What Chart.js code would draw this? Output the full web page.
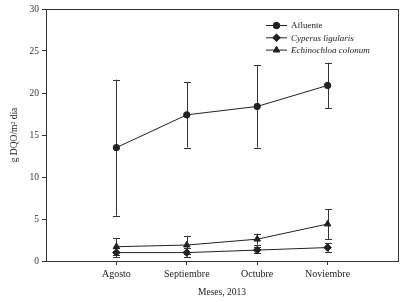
<!DOCTYPE html>
<html>
<head>
<meta charset="utf-8">
<script src="https://cdn.jsdelivr.net/npm/chart.js@4/dist/chart.umd.min.js"></script>
<style>
  html, body { margin: 0; padding: 0; background: #fff; }
  #wrap { width: 411px; height: 302px; position: relative; }
</style>
</head>
<body>
<div id="wrap"><canvas id="chart"></canvas></div>
<script>
const months = ['Agosto', 'Septiembre', 'Octubre', 'Noviembre'];
const seriesNames = ['Afluente', 'Cyperus ligularis', 'Echinochloa colonum'];

// medias
const afluente = [13.5, 17.4, 18.4, 20.9];
const cyperus = [1.0, 1.0, 1.3, 1.6];
const echinochloa = [1.7, 1.9, 2.6, 4.4];

// desviación estándar (barras de error)
const afluenteSd = [8.1, 3.9, 4.9, 2.7];
const cyperusSd = [0.5, 0.5, 0.4, 0.5];
const echinochloaSd = [1.0, 1.1, 0.65, 1.8];

const yTicks = [0, 5, 10, 15, 20, 25, 30];

const ink = '#222';
const serif = '"Liberation Serif", "Times New Roman", serif';

function toPoints(vals, sds) {
    return vals.map((v, i) => ({ x: i + 1, y: v, sd: sds[i] }));
}

const markers = ['circle', 'rectRot', 'triangle'];
const radii = [3.2, 3.8, 3.8];

// barras de error
const errorBars = {
    id: 'errorBars',
    beforeDatasetsDraw(chart) {
        const ctx = chart.ctx;
        const ys = chart.scales.y;
        ctx.save();
        ctx.strokeStyle = '#333';
        ctx.lineWidth = 1;
        chart.data.datasets.forEach((ds, di) => {
            const meta = chart.getDatasetMeta(di);
            meta.data.forEach((pt, i) => {
                const d = ds.data[i];
                const x = Math.round(pt.x) + 0.5;
                const top = ys.getPixelForValue(d.y + d.sd);
                const bot = ys.getPixelForValue(d.y - d.sd);
                ctx.beginPath();
                ctx.moveTo(x, top); ctx.lineTo(x, bot);
                ctx.moveTo(x - 3.5, Math.round(top) + 0.5); ctx.lineTo(x + 3.5, Math.round(top) + 0.5);
                ctx.moveTo(x - 3.5, Math.round(bot) + 0.5); ctx.lineTo(x + 3.5, Math.round(bot) + 0.5);
                ctx.stroke();
            });
        });
        ctx.restore();
    }
};

// marco y leyenda
const frameLegend = {
    id: 'frameLegend',
    afterDraw(chart) {
        const ctx = chart.ctx;
        const a = chart.chartArea;
        ctx.save();
        ctx.strokeStyle = '#333';
        ctx.lineWidth = 1;
        ctx.strokeRect(Math.round(a.left) + 0.5, Math.round(a.top) + 0.5,
            Math.round(a.right - a.left), Math.round(a.bottom - a.top));

        const lx = 266, ly = 25, step = 12.3;
        chart.data.datasets.forEach((ds, i) => {
            const y = ly + i * step;
            ctx.strokeStyle = ink;
            ctx.beginPath();
            ctx.moveTo(lx, y + 0.5); ctx.lineTo(lx + 21, y + 0.5);
            ctx.stroke();
            ctx.fillStyle = ink;
            Chart.helpers.drawPoint(ctx, { pointStyle: markers[i], radius: radii[i], borderWidth: 1 }, lx + 10.5, y + 0.5);
            ctx.fill();
            ctx.font = (i === 0 ? '' : 'italic ') + '9px ' + serif;
            ctx.textBaseline = 'middle';
            ctx.textAlign = 'left';
            ctx.fillText(ds.label, lx + 25, y + 1);
        });
        ctx.restore();
    }
};

const datasets = [
    [afluente, afluenteSd],
    [cyperus, cyperusSd],
    [echinochloa, echinochloaSd]
].map(([v, sd], i) => ({
    label: seriesNames[i],
    data: toPoints(v, sd),
    showLine: true,
    borderColor: ink,
    borderWidth: 1,
    backgroundColor: ink,
    pointBackgroundColor: ink,
    pointBorderColor: ink,
    pointStyle: markers[i],
    pointRadius: radii[i],
    tension: 0
}));

new Chart(document.getElementById('chart'), {
    type: 'scatter',
    data: { datasets },
    options: {
        responsive: true,
        maintainAspectRatio: false,
        animation: false,
        layout: { padding: { left: 0, right: 13, top: 9, bottom: 0 } },
        plugins: { legend: { display: false }, tooltip: { enabled: false } },
        scales: {
            x: {
                type: 'linear',
                min: 0, max: 5,
                afterBuildTicks(s) { s.ticks = months.map((m, i) => ({ value: i + 1 })); },
                afterFit(s) { s.height = 41; },
                grid: { display: true, drawOnChartArea: false, drawTicks: true, tickLength: 4, color: '#333' },
                border: { display: false },
                ticks: {
                    color: ink, padding: 3, maxRotation: 0, autoSkip: false,
                    font: { family: serif, size: 10 },
                    callback: (v) => months[v - 1]
                },
                title: {
                    display: true, text: 'Meses, 2013', color: ink,
                    font: { family: serif, size: 9.5 }, padding: { top: 2, bottom: 4 }
                }
            },
            y: {
                min: 0, max: 30,
                afterBuildTicks(s) { s.ticks = yTicks.map(v => ({ value: v })); },
                afterFit(s) { s.width = 46; },
                grid: { display: true, drawOnChartArea: false, drawTicks: true, tickLength: 4, color: '#333' },
                border: { display: false },
                ticks: { color: '#333', padding: 3, font: { family: serif, size: 9.5 } },
                title: {
                    display: true, text: 'g DQO/m² día', color: ink,
                    font: { family: serif, size: 9.5 }, padding: { top: 9, bottom: 0 }
                }
            }
        }
    },
    plugins: [errorBars, frameLegend]
});
</script>
</body>
</html>
